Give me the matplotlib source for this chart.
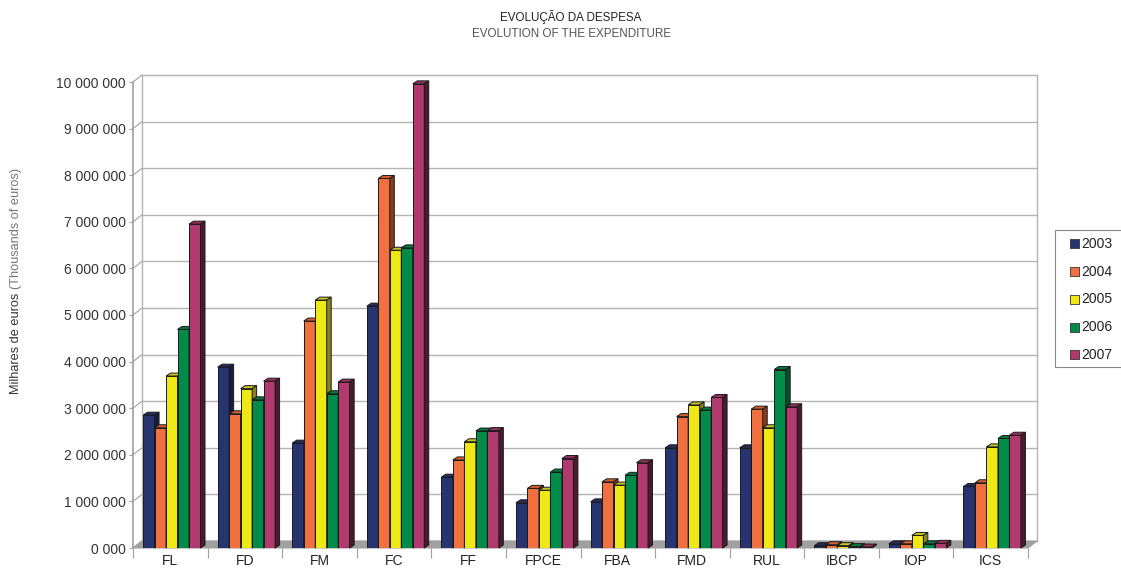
import matplotlib.pyplot as plt
from matplotlib.patches import Polygon, Rectangle
import numpy as np

plt.rcParams['font.family'] = ['Liberation Sans', 'DejaVu Sans']

# Data (thousands of euros)
categories = ['FL', 'FD', 'FM', 'FC', 'FF', 'FPCE', 'FBA', 'FMD', 'RUL', 'IBCP', 'IOP', 'ICS']
years = ['2003', '2004', '2005', '2006', '2007']
v2003 = [2850000, 3880000, 2250000, 5190000, 1520000, 970000, 990000, 2150000, 2150000, 50000, 90000, 1320000]
v2004 = [2580000, 2880000, 4870000, 7930000, 1890000, 1280000, 1420000, 2820000, 2980000, 70000, 90000, 1400000]
v2005 = [3690000, 3420000, 5320000, 6390000, 2280000, 1240000, 1350000, 3070000, 2580000, 50000, 270000, 2170000]
v2006 = [4690000, 3180000, 3310000, 6440000, 2510000, 1630000, 1560000, 2960000, 3830000, 30000, 90000, 2350000]
v2007 = [6950000, 3580000, 3560000, 9960000, 2520000, 1920000, 1830000, 3230000, 3030000, 20000, 100000, 2420000]
series = [v2003, v2004, v2005, v2006, v2007]
yticks = np.arange(0, 10000001, 1000000)
ytick_labels = ['0 000', '1 000 000', '2 000 000', '3 000 000', '4 000 000', '5 000 000',
                '6 000 000', '7 000 000', '8 000 000', '9 000 000', '10 000 000']

front = ['#283470', '#F07040', '#EEE814', '#008C48', '#B03A6E']
top = ['#222C5E', '#D8602F', '#C8C22A', '#007A3C', '#952F5C']
side = ['#161C40', '#8C3A1C', '#8A8420', '#00502A', '#4A1A30']

W, H = 1121, 572
fig = plt.figure(figsize=(W / 100, H / 100), dpi=100)
ax = fig.add_axes([133 / W, 1 - 548 / H, 895 / W, 466 / H])
ncat = len(categories)
ymax = 10000000
ax.set_xlim(0, ncat)
ax.set_ylim(0, ymax)

ux = 895 / ncat          # px per category unit
uy = 466 / ymax          # px per value unit
DX, DY = 9 / ux, 7 / uy  # back wall offset
bdx, bdy = 4.5 / ux, 3 / uy  # bar depth

grid_c = '#B4B4B4'
axis_c = '#A0A0A0'

for s in ax.spines.values():
    s.set_visible(False)

# back wall gridlines and edges
for v in yticks:
    ax.plot([DX, ncat + DX], [v + DY, v + DY], color=grid_c, lw=1, clip_on=False, zorder=1)
    ax.plot([0, DX], [v, v + DY], color=axis_c, lw=0.8, clip_on=False, zorder=1)
ax.plot([DX, DX], [DY, ymax + DY], color=grid_c, lw=1, clip_on=False, zorder=1)
ax.plot([ncat + DX, ncat + DX], [DY, ymax + DY], color=grid_c, lw=1, clip_on=False, zorder=1)
ax.plot([0, 0], [0, ymax], color=axis_c, lw=1.2, clip_on=False, zorder=1)

# floor
ax.add_patch(Polygon([(0, 0), (ncat, 0), (ncat + DX, DY), (DX, DY)], closed=True,
                     facecolor='#A0A0A0', edgecolor=axis_c, lw=0.8, clip_on=False, zorder=2))

# bars
w = 0.154
x0 = 0.135
z = 3
for i in range(ncat):
    for k, vals in enumerate(series):
        x = i + x0 + k * w
        v = vals[i]
        ax.bar(x, v, width=w, align='edge', color=front[k], edgecolor='#1A1A1A',
               lw=0.7, zorder=z, label=years[k] if i == 0 else None)
        ax.add_patch(Polygon([(x, v), (x + w, v), (x + w + bdx, v + bdy), (x + bdx, v + bdy)],
                             closed=True, facecolor=top[k], edgecolor='#1A1A1A', lw=0.7,
                             zorder=z, clip_on=False))
        ax.add_patch(Polygon([(x + w, 0), (x + w + bdx, bdy), (x + w + bdx, v + bdy), (x + w, v)],
                             closed=True, facecolor=side[k], edgecolor='#1A1A1A', lw=0.7,
                             zorder=z, clip_on=False))
        z += 1

# axes ticks
ax.set_yticks(yticks)
ax.set_yticklabels(ytick_labels, fontsize=10, color='#333333')
ax.tick_params(axis='y', length=3, width=0.8, color=axis_c, pad=2)
ax.set_xticks(np.arange(ncat + 1))
ax.set_xticklabels([])
ax.tick_params(axis='x', which='major', length=7, width=0.8, color=axis_c)
ax.set_xticks(np.arange(ncat) + 0.5, minor=True)
ax.set_xticklabels(categories, minor=True, fontsize=10, color='#222222')
ax.tick_params(axis='x', which='minor', length=0, pad=4)

# titles
fig.text(571 / W, 1 - 17 / H, 'EVOLUÇÃO DA DESPESA', ha='center', va='center', fontsize=8.4, color='#222222')
fig.text(571 / W, 1 - 34 / H, 'EVOLUTION OF THE EXPENDITURE', ha='center', va='center', fontsize=8.4, color='#555555')

# y label in two tones
fig.text(16 / W, 1 - 289 / H, 'Milhares de euros ', rotation=90, ha='center', va='top', fontsize=9.2, color='#333333')
fig.text(16 / W, 1 - 289 / H, '(Thousands of euros)', rotation=90, ha='center', va='bottom', fontsize=9.2, color='#777777')

# legend (manual box)
fig.patches.append(Rectangle((1055 / W, 1 - 367 / H), 80 / W, 137 / H, transform=fig.transFigure,
                             facecolor='white', edgecolor='#888888', lw=0.8))
for k, yr in enumerate(years):
    yc = 244 + k * 27.7
    fig.patches.append(Rectangle((1070 / W, 1 - (yc + 4.5) / H), 9 / W, 9 / H, transform=fig.transFigure,
                                 facecolor=front[k], edgecolor='#333333', lw=0.6))
    fig.text(1081 / W, 1 - yc / H, yr, ha='left', va='center', fontsize=10, color='#222222')

fig.savefig('out.png', dpi=100)
